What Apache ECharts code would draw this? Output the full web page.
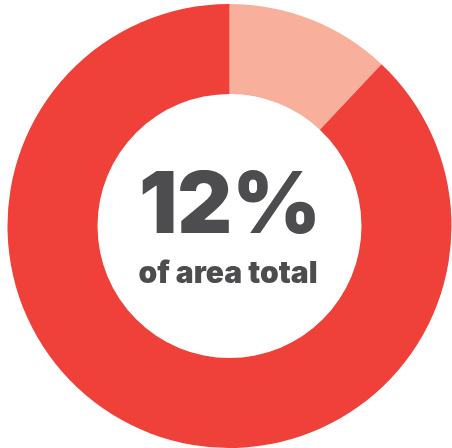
<!DOCTYPE html>
<html>
<head>
<meta charset="utf-8">
<script src="https://cdn.jsdelivr.net/npm/echarts@6/dist/echarts.min.js"></script>
<style>
  html, body { margin: 0; padding: 0; background: #ffffff; }
  #chart { width: 452px; height: 448px; }
</style>
</head>
<body>
<div id="chart"></div>
<script>
// Share of the area total versus the remainder
const categories = ['Share', 'Remainder'];
const values = [12, 88];
const sliceColors = ['#F8B09C', '#EF4039'];
const headline = '12%';
const subline = 'of area total';

const chart = echarts.init(document.getElementById('chart'), null, { renderer: 'canvas' });

chart.setOption({
  backgroundColor: '#ffffff',
  animation: false,
  series: [{
    type: 'pie',
    center: [229.5, 226],
    radius: [132, 222],
    startAngle: 90,
    clockwise: true,
    silent: true,
    label: { show: false },
    labelLine: { show: false },
    itemStyle: { borderWidth: 0 },
    data: categories.map((name, i) => ({
      name,
      value: values[i],
      itemStyle: { color: sliceColors[i] }
    }))
  }],
  graphic: [
    {
      type: 'text',
      style: {
        text: headline,
        x: 230,
        y: 207,
        textAlign: 'center',
        textVerticalAlign: 'middle',
        fontFamily: 'Inter',
        fontWeight: 900,
        fontSize: 85,
        fill: '#4D4D4F'
      }
    },
    {
      type: 'text',
      style: {
        text: subline,
        x: 228,
        y: 273.5,
        textAlign: 'center',
        textVerticalAlign: 'middle',
        fontFamily: 'Inter',
        fontWeight: 900,
        fontSize: 30,
        fill: '#4D4D4F'
      }
    }
  ]
});
</script>
</body>
</html>
